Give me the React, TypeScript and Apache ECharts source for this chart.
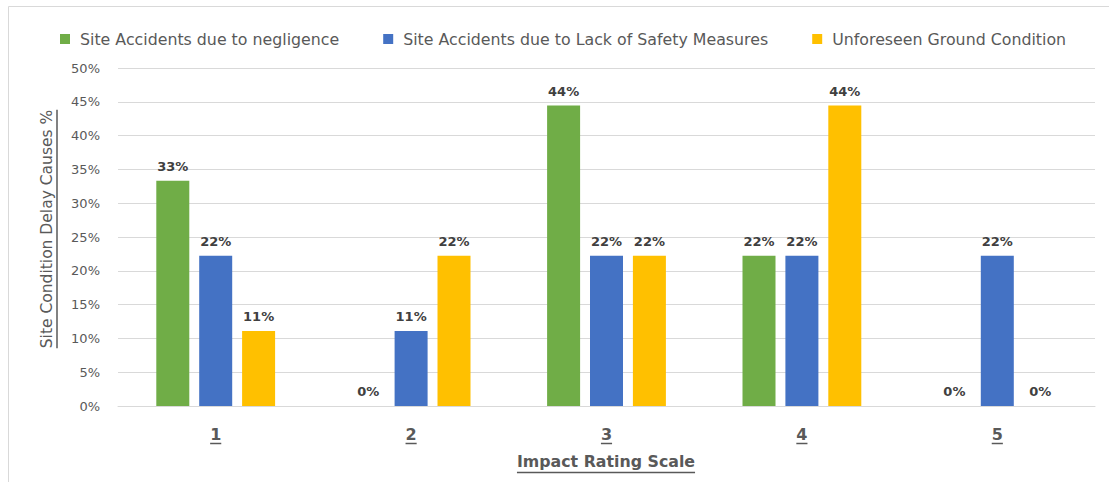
import React, { useEffect, useRef } from "react";
import * as echarts from "echarts";

const categories = ["1", "2", "3", "4", "5"];
const seriesNames = [
  "Site Accidents due to negligence",
  "Site Accidents due to Lack of Safety Measures",
  "Unforeseen Ground Condition",
];
const negligence = [33.33, 0, 44.44, 22.22, 0];
const lackOfSafety = [22.22, 11.11, 22.22, 22.22, 22.22];
const groundCondition = [11.11, 22.22, 22.22, 44.44, 0];
const seriesColors = ["#70AD47", "#4472C4", "#FFC000"];
const yTitle = "Site Condition Delay Causes %";
const xTitle = "Impact Rating Scale";

const FONT = '"DejaVu Sans", sans-serif';
const TEXT_GRAY = "#595959";

function measure(text: string, font: string): number {
  const ctx = document.createElement("canvas").getContext("2d");
  if (!ctx) return text.length * 8;
  ctx.font = font;
  return ctx.measureText(text).width;
}

export default function App() {
  const ref = useRef<HTMLDivElement>(null);

  useEffect(() => {
    if (!ref.current) return;
    const chart = echarts.init(ref.current, undefined, { renderer: "svg" });

    const xLabelSize = 16;
    const xLabelW = measure("1", `bold ${xLabelSize}px "DejaVu Sans"`);
    const yTitleSize = 15.5;
    const yTitleW = measure(yTitle, `${yTitleSize}px "DejaVu Sans"`);
    const xTitleSize = 15.8;
    const xTitleW = measure(xTitle, `bold ${xTitleSize}px "DejaVu Sans"`);

    const dataSets = [negligence, lackOfSafety, groundCondition];

    chart.setOption({
      animation: false,
      textStyle: { fontFamily: FONT },
      color: seriesColors,
      legend: {
        left: 55,
        top: 26,
        itemWidth: 10,
        itemHeight: 10,
        itemGap: 44,
        icon: "rect",
        textStyle: {
          fontFamily: FONT,
          fontSize: 15.8,
          color: TEXT_GRAY,
          padding: [0, 0, 0, 5],
        },
        data: seriesNames,
      },
      grid: { left: 118, right: 14, top: 68, bottom: 76, containLabel: false },
      xAxis: {
        type: "category",
        data: categories,
        axisLine: { lineStyle: { color: "#D9D9D9" } },
        axisTick: { show: false },
        axisLabel: {
          margin: 20,
          formatter: (v: string) => `{a|${v}}\n{u|}`,
          rich: {
            a: {
              fontFamily: FONT,
              fontSize: xLabelSize,
              fontWeight: "bold",
              color: TEXT_GRAY,
              lineHeight: 16,
            },
            u: {
              width: xLabelW,
              height: 1.5,
              lineHeight: 3,
              backgroundColor: TEXT_GRAY,
            },
          },
        },
      },
      yAxis: {
        type: "value",
        min: 0,
        max: 50,
        interval: 5,
        axisLine: { show: false },
        axisTick: { show: false },
        splitLine: { lineStyle: { color: "#D9D9D9" } },
        axisLabel: {
          formatter: "{value}%",
          fontFamily: FONT,
          fontSize: 13,
          color: TEXT_GRAY,
          margin: 18,
        },
      },
      series: seriesNames.map((name, i) => ({
        name,
        type: "bar",
        data: dataSets[i],
        barWidth: 33,
        barGap: "30%",
        itemStyle: { color: seriesColors[i] },
        label: {
          show: true,
          position: "top",
          distance: 8,
          formatter: (p: any) => `${Math.round(p.value)}%`,
          fontFamily: FONT,
          fontSize: 13,
          fontWeight: "bold",
          color: "#404040",
        },
      })),
      graphic: [
        {
          type: "rect",
          silent: true,
          shape: { x: 8.5, y: 6.5, width: 1200, height: 600 },
          style: { fill: "none", stroke: "#D9D9D9", lineWidth: 1 },
        },
        {
          type: "text",
          x: 48,
          y: 229,
          rotation: Math.PI / 2,
          style: {
            text: `{a|${yTitle}}\n{u|}`,
            align: "center",
            verticalAlign: "middle",
            fill: TEXT_GRAY,
            rich: {
              a: {
                fontFamily: FONT,
                fontSize: yTitleSize,
                fill: TEXT_GRAY,
                lineHeight: 18,
              },
              u: {
                width: yTitleW,
                height: 1.5,
                lineHeight: 3,
                backgroundColor: TEXT_GRAY,
              },
            },
          },
        },
        {
          type: "text",
          x: 606,
          y: 463,
          style: {
            text: `{a|${xTitle}}\n{u|}`,
            align: "center",
            verticalAlign: "middle",
            fill: TEXT_GRAY,
            rich: {
              a: {
                fontFamily: FONT,
                fontSize: xTitleSize,
                fontWeight: "bold",
                fill: TEXT_GRAY,
                lineHeight: 19,
              },
              u: {
                width: xTitleW,
                height: 1.5,
                lineHeight: 3,
                backgroundColor: TEXT_GRAY,
              },
            },
          },
        },
      ],
    });

    return () => chart.dispose();
  }, []);

  return (
    <div
      ref={ref}
      style={{ position: "fixed", left: 0, top: 0, width: 1109, height: 482, background: "#fff" }}
    />
  );
}
